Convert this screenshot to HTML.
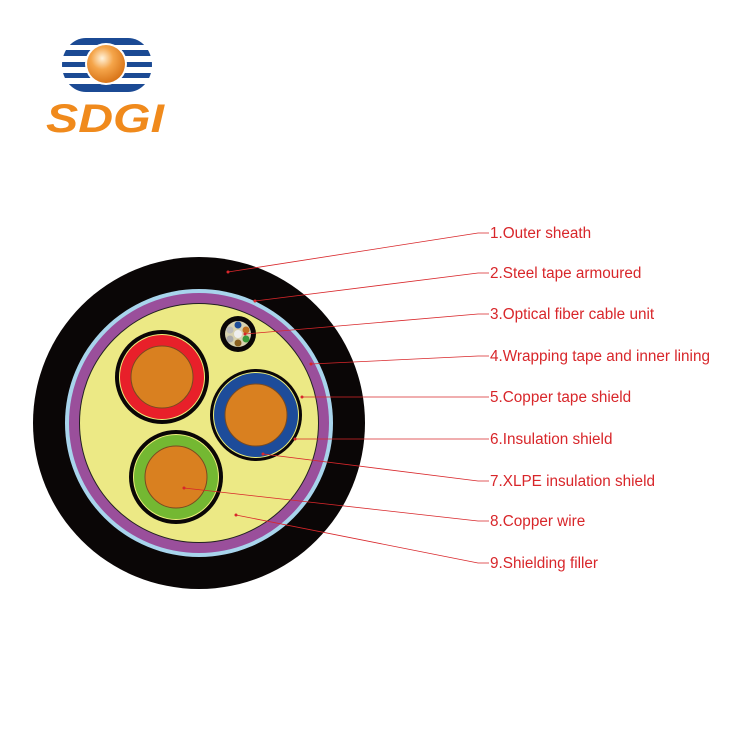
<!DOCTYPE html>
<html><head><meta charset="utf-8"><style>
body{margin:0;background:#fff;}
svg{display:block}
text{font-family:"Liberation Sans",Arial,sans-serif;}
</style></head><body>
<svg width="750" height="750" viewBox="0 0 750 750" xmlns="http://www.w3.org/2000/svg">
<defs>
<radialGradient id="ball" cx="0.4" cy="0.35" r="0.65">
<stop offset="0" stop-color="#fff3dc"/><stop offset="0.45" stop-color="#f5a54a"/><stop offset="1" stop-color="#d9761a"/>
</radialGradient>
<clipPath id="ov"><rect x="62" y="38" width="90" height="54" rx="24" ry="27"/></clipPath>
</defs>
<!-- logo -->
<g clip-path="url(#ov)" fill="#1b4a94">
<rect x="55" y="38" width="110" height="7"/>
<rect x="55" y="50" width="110" height="6"/>
<rect x="55" y="62" width="110" height="5"/>
<rect x="55" y="73" width="110" height="5"/>
<rect x="55" y="84" width="110" height="8"/>
</g>
<circle cx="106" cy="64" r="21" fill="#fff"/>
<circle cx="106" cy="64" r="19" fill="url(#ball)"/>
<text x="46" y="132" font-size="40" font-weight="bold" font-style="italic" fill="#f08a1c" textLength="118" lengthAdjust="spacingAndGlyphs">SDGI</text>
<!-- cable -->
<circle cx="199" cy="423" r="166" fill="#0a0606"/>
<circle cx="199" cy="423" r="134" fill="#a8d4ec"/>
<circle cx="199" cy="423" r="130" fill="#9a4f9b"/>
<circle cx="199" cy="423" r="120" fill="#222"/>
<circle cx="199" cy="423" r="119" fill="#ece985"/>
<!-- red -->
<circle cx="162" cy="377" r="47" fill="#0a0606"/>
<circle cx="162" cy="377" r="43" fill="#eef07a"/>
<circle cx="162" cy="377" r="42" fill="#e8202a"/>
<circle cx="162" cy="377" r="31" fill="#d98020" stroke="#7a4a20" stroke-width="1"/>
<!-- blue -->
<circle cx="256" cy="415" r="46" fill="#0a0606"/>
<circle cx="256" cy="415" r="43" fill="#eef07a"/>
<circle cx="256" cy="415" r="42" fill="#1d4c9a"/>
<circle cx="256" cy="415" r="31" fill="#d98020" stroke="#7a4a20" stroke-width="1"/>
<!-- green -->
<circle cx="176" cy="477" r="47" fill="#0a0606"/>
<circle cx="176" cy="477" r="43" fill="#eef07a"/>
<circle cx="176" cy="477" r="42" fill="#74b832"/>
<circle cx="176" cy="477" r="31" fill="#d98020" stroke="#7a4a20" stroke-width="1"/>
<!-- fiber unit -->
<circle cx="238" cy="334" r="18" fill="#0a0606"/>
<circle cx="238" cy="334" r="13" fill="#d8d2b0"/>
<circle cx="238" cy="334" r="4" fill="#eee"/>
<circle cx="238" cy="325" r="3.5" fill="#1d4c9a"/>
<circle cx="246" cy="330" r="3.5" fill="#c07020"/>
<circle cx="246" cy="339" r="3.5" fill="#3a9a3a"/>
<circle cx="238" cy="343" r="3.5" fill="#8a6020"/>
<circle cx="230" cy="339" r="3.5" fill="#aaa"/>
<circle cx="230" cy="330" r="3.5" fill="#bbb"/>
<!-- leader lines -->
<g stroke="#d8262a" stroke-width="0.8" fill="none">
<polyline points="228,272 478,233 489,233"/>
<polyline points="255,301 478,273 489,273"/>
<polyline points="245,334 478,314 489,314"/>
<polyline points="311,364 478,356 489,356"/>
<polyline points="302,397 489,397"/>
<polyline points="295,439 489,439"/>
<polyline points="263,454 478,481 489,481"/>
<polyline points="184,488 478,521 489,521"/>
<polyline points="236,515 478,563 489,563"/>
</g>
<g fill="#d8262a"><circle cx="228" cy="272" r="1.5"/><circle cx="255" cy="301" r="1.5"/><circle cx="245" cy="334" r="1.5"/><circle cx="311" cy="364" r="1.5"/><circle cx="302" cy="397" r="1.5"/><circle cx="295" cy="439" r="1.5"/><circle cx="263" cy="454" r="1.5"/><circle cx="184" cy="488" r="1.5"/><circle cx="236" cy="515" r="1.5"/></g>
<g font-size="15.3" fill="#d8262a">
<text x="490" y="238">1.Outer sheath</text>
<text x="490" y="278">2.Steel tape armoured</text>
<text x="490" y="319">3.Optical fiber cable unit</text>
<text x="490" y="361">4.Wrapping tape and inner lining</text>
<text x="490" y="402">5.Copper tape shield</text>
<text x="490" y="444">6.Insulation shield</text>
<text x="490" y="486">7.XLPE insulation shield</text>
<text x="490" y="526">8.Copper wire</text>
<text x="490" y="568">9.Shielding filler</text>
</g>
</svg>
</body></html>
